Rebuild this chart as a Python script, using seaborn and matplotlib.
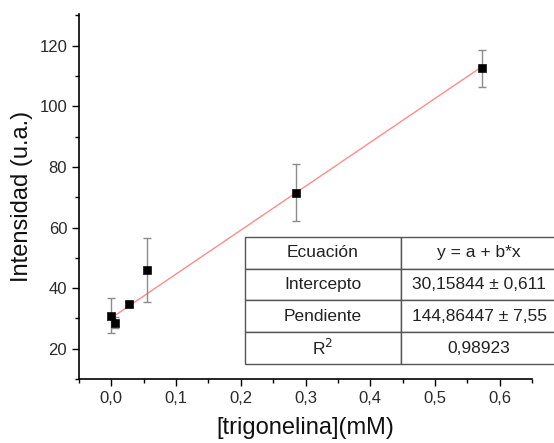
import numpy as np
import pandas as pd
import matplotlib
matplotlib.use("Agg")
import matplotlib.pyplot as plt
from matplotlib.ticker import MultipleLocator, FuncFormatter
import seaborn as sns

# datos
conc = [0.0, 0.006, 0.028, 0.055, 0.286, 0.572]
intensidad = [30.9, 28.6, 34.6, 46.0, 71.5, 112.5]
error = [5.8, 1.7, 0.8, 10.5, 9.4, 6.0]

# ajuste lineal (valores de la tabla)
intercepto = 30.15844
pendiente = 144.86447
x_ajuste = [0.0, 0.575]

tabla = [
    ["Ecuación", "y = a + b*x"],
    ["Intercepto", "30,15844 ± 0,611"],
    ["Pendiente", "144,86447 ± 7,55"],
    ["R$^2$", "0,98923"],
]

sns.set_style("ticks")
plt.rcParams["font.family"] = ["Liberation Sans", "DejaVu Sans"]

df = pd.DataFrame({"conc": conc, "intensidad": intensidad, "error": error})
df_fit = pd.DataFrame({"x": x_ajuste})
df_fit["y"] = intercepto + pendiente * df_fit["x"]

fig = plt.figure(figsize=(5.54, 4.43), dpi=100)
ax = fig.add_axes([0.1426, 0.1445, 0.8177, 0.824])

sns.lineplot(data=df_fit, x="x", y="y", color="#ff8c8c", linewidth=1.0, ax=ax)
ax.errorbar(df["conc"], df["intensidad"], yerr=df["error"], fmt="none",
            ecolor="#8c8c8c", elinewidth=1.0, capsize=3, capthick=1.0, zorder=3)
sns.scatterplot(data=df, x="conc", y="intensidad", marker="s", s=32,
                color="black", edgecolor="black", zorder=4, ax=ax)

ax.set_xlim(-0.05, 0.65)
ax.set_ylim(10, 130.5)
ax.xaxis.set_major_locator(MultipleLocator(0.1))
ax.xaxis.set_minor_locator(MultipleLocator(0.05))
ax.yaxis.set_major_locator(MultipleLocator(20))
ax.yaxis.set_minor_locator(MultipleLocator(10))
ax.xaxis.set_major_formatter(FuncFormatter(lambda v, p: f"{v:.1f}".replace(".", ",")))
ax.yaxis.set_major_formatter(FuncFormatter(lambda v, p: f"{v:.0f}"))
ax.set_yticks([20, 40, 60, 80, 100, 120])
ax.tick_params(which="major", direction="out", length=5, width=1.0, labelsize=12,
               colors="black", labelcolor="#2a2a2a")
ax.tick_params(which="minor", direction="out", length=3, width=1.0, colors="black")

for s in ["top", "right"]:
    ax.spines[s].set_visible(False)
for s in ["left", "bottom"]:
    ax.spines[s].set_linewidth(1.2)
    ax.spines[s].set_color("black")

ax.set_xlabel("[trigonelina](mM)", fontsize=17, labelpad=8, color="#111111")
ax.set_ylabel("Intensidad (u.a.)", fontsize=17, color="#111111")
ax.yaxis.set_label_coords(-0.102, 0.5)

# tabla de ajuste
t = ax.table(cellText=tabla, cellLoc="center",
             bbox=[(245 - 79) / 453, (379 - 364) / 365, (557 - 245) / 453, (364 - 237) / 365])
t.auto_set_font_size(False)
t.set_fontsize(12.5)
t.set_clip_on(False)
for (r, c), cell in t.get_celld().items():
    cell.set_edgecolor("#555555")
    cell.set_linewidth(1.0)
    cell.set_facecolor("white")
    cell.set_width(((401 - 245) if c == 0 else (557 - 401)) / 453)
    cell.get_text().set_color("#222222")
    cell.set_clip_on(False)

fig.savefig("out.png", dpi=100)
